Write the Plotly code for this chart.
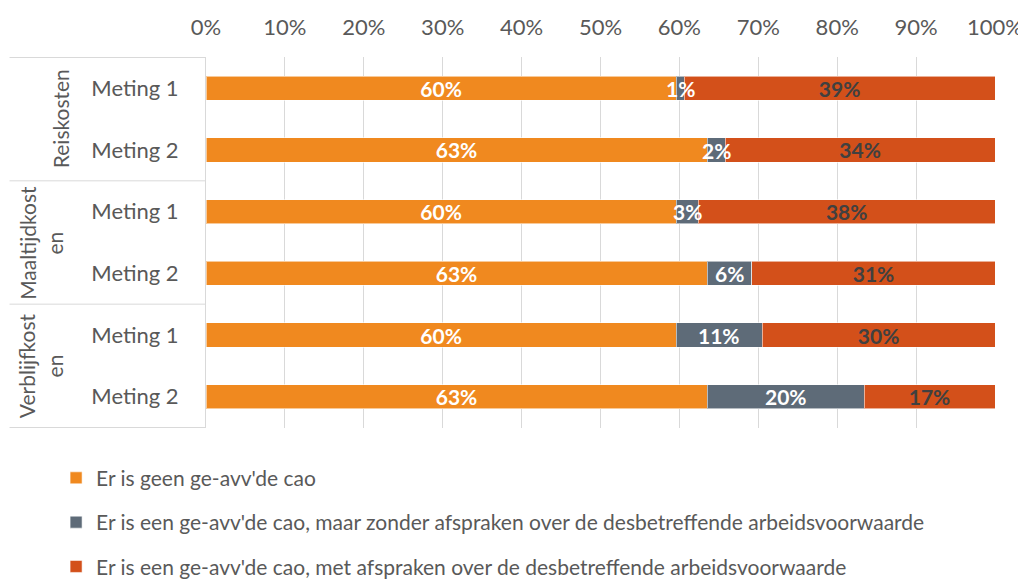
import plotly.graph_objects as go

categories = ["Reiskosten|Meting 1", "Reiskosten|Meting 2",
              "Maaltijdkosten|Meting 1", "Maaltijdkosten|Meting 2",
              "Verblijfkosten|Meting 1", "Verblijfkosten|Meting 2"]
tick_labels = ["Meting 1", "Meting 2", "Meting 1", "Meting 2", "Meting 1", "Meting 2"]
groups = ["Reiskosten", "Maaltijdkost<br>en", "Verblijfkost<br>en"]

series_names = ["Er is geen ge-avv'de cao",
                "Er is een ge-avv'de cao, maar zonder afspraken over de desbetreffende arbeidsvoorwaarde",
                "Er is een ge-avv'de cao, met afspraken over de desbetreffende arbeidsvoorwaarde"]
geen = [0.596, 0.635, 0.596, 0.635, 0.596, 0.635]
zonder = [0.010, 0.023, 0.028, 0.057, 0.109, 0.199]
met = [0.394, 0.342, 0.376, 0.308, 0.295, 0.166]
geen_lbl = ["60%", "63%", "60%", "63%", "60%", "63%"]
zonder_lbl = ["1%", "2%", "3%", "6%", "11%", "20%"]
met_lbl = ["39%", "34%", "38%", "31%", "30%", "17%"]

colors = ["#F0891F", "#5E6B78", "#D3501A"]
label_colors = ["white", "white", "#404040"]
FONT = "Lato"

fig = go.Figure()
for i, (vals, lbls) in enumerate([(geen, geen_lbl), (zonder, zonder_lbl), (met, met_lbl)]):
    fig.add_trace(go.Bar(
        y=categories, x=vals, orientation="h", name=series_names[i],
        marker=dict(color=colors[i], line=dict(color="rgba(255,255,255,0.55)", width=1)),
        text=None if i == 1 else lbls, textposition="inside", insidetextanchor="middle",
        constraintext="none", textangle=0,
        textfont=dict(family=FONT, size=21, color=label_colors[i], weight="bold"),
        legendgroup=str(i),
    ))

fig.update_layout(
    barmode="stack", bargap=0.61,
    width=1018, height=571,
    margin=dict(l=198, r=31, t=49, b=151, autoexpand=False),
    plot_bgcolor="white", paper_bgcolor="white",
    font=dict(family=FONT, size=22, color="#595959"),
    xaxis=dict(side="top", range=[0, 1], tickformat=".0%", dtick=0.1,
               showgrid=True, gridcolor="#D9D9D9", gridwidth=1, automargin=False,
               zeroline=False, showline=False, ticks="",
               tickfont=dict(size=22, color="#595959"), ticklabelstandoff=17),
    yaxis=dict(type="category", categoryorder="array", categoryarray=categories,
               autorange="reversed", tickvals=categories, ticktext=tick_labels,
               showline=True, linecolor="#D9D9D9", linewidth=1, ticks="",
               automargin=False,
               showgrid=False, tickfont=dict(size=22, color="#595959"),
               ticklabelstandoff=22),
    legend=dict(orientation="v", x=-0.19, xanchor="left", y=-0.08, yanchor="top",
                font=dict(size=21, color="#595959"), tracegroupgap=14,
                traceorder="grouped", itemwidth=30),
    showlegend=True,
)

# grey segment labels drawn on top so they are not covered by the next segment
for cat, g, z, lbl in zip(categories, geen, zonder, zonder_lbl):
    fig.add_annotation(x=g + z / 2, y=cat, xref="x", yref="y", text=lbl, showarrow=False,
                       xanchor="center", yanchor="middle", yshift=0,
                       font=dict(family=FONT, size=21, color=label_colors[1], weight="bold"))

# group divider lines
for yb in [-0.5, 1.5, 3.5, 5.5]:
    fig.add_shape(type="line", xref="paper", yref="y", x0=-0.249, x1=0, y0=yb, y1=yb,
                  line=dict(color="#D9D9D9", width=1))

# group labels (rotated)
group_pos = [(-0.185, 0.5), (-0.210, 2.5), (-0.210, 4.5)]
for g, (xp, yc) in zip(groups, group_pos):
    fig.add_annotation(text=g, xref="paper", yref="y", x=xp, y=yc, textangle=-90,
                       showarrow=False, font=dict(size=21, color="#595959"),
                       align="center", xanchor="center", yanchor="middle")

fig.write_html("out.html")
